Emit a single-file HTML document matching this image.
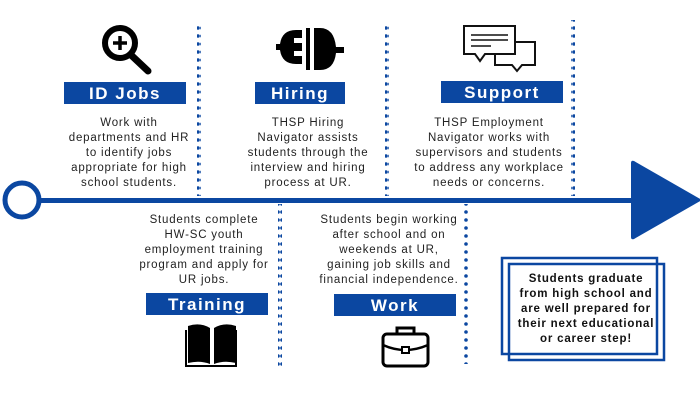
<!DOCTYPE html>
<html><head><meta charset="utf-8"><style>
body{margin:0;width:700px;height:400px;background:#fff;position:relative;overflow:hidden;font-family:"Liberation Sans",sans-serif}
.lbl{position:absolute;background:#0b47a1;color:#fff;font-weight:bold;font-size:17px;letter-spacing:1.5px;text-align:center;line-height:23px;height:22px}
.t{position:absolute;color:#222;font-size:11.5px;letter-spacing:0.8px;line-height:15px;text-align:center;white-space:nowrap;transform:translateX(-50%)}
.b{font-weight:bold;color:#111}
svg{position:absolute;left:0;top:0}
</style></head><body>
<svg width="700" height="400">
<defs><pattern id="d" width="4" height="8" patternUnits="userSpaceOnUse"><circle cx="2" cy="4" r="1.8" fill="#0b47a1"/></pattern></defs>
<rect x="197" y="24" width="4" height="172" fill="url(#d)"/>
<rect x="385" y="24" width="4" height="172" fill="url(#d)"/>
<rect x="571" y="20" width="4" height="176" fill="url(#d)"/>
<rect x="278" y="204" width="4" height="164" fill="url(#d)"/>
<rect x="464" y="204" width="4" height="160" fill="url(#d)"/>
<rect x="38" y="198" width="600" height="5" fill="#0b47a1"/>
<circle cx="22" cy="200" r="17" fill="#fff" stroke="#0b47a1" stroke-width="5"/>
<path d="M631 163 Q631 160 634 161 L702 200 L634 239 Q631 240 631 237 Z" fill="#0b47a1"/>
<rect x="502" y="258" width="155" height="96" fill="none" stroke="#0b47a1" stroke-width="2.5"/>
<rect x="509" y="264" width="155" height="96" fill="none" stroke="#0b47a1" stroke-width="2.5"/>
<!-- magnifier -->
<circle cx="120" cy="43" r="15" fill="none" stroke="#000" stroke-width="6"/>
<path d="M131 55 L148 71" stroke="#000" stroke-width="7" stroke-linecap="round"/>
<path d="M120 36 V50 M113 43 H127" stroke="#000" stroke-width="3.5"/>
<!-- plug -->
<path d="M302 30 h-6 q-14 0 -16 14 h-4 v6 h4 q2 14 16 14 h6 v-8 h-8 v-5 h8 v-8 h-8 v-5 h8 z" fill="#000"/>
<path d="M314 28 v42 h6 q14 0 16 -17 h8 v-6 h-8 q-2 -19 -16 -19 z" fill="#000"/>
<rect x="306" y="28" width="4" height="42" fill="#000"/>
<!-- chat -->
<path d="M495 42 h40 v23 h-13 l-5 6 l-5 -6 h-17 z" fill="#fff" stroke="#111" stroke-width="2"/>
<path d="M464 26 h51 v28 h-30 l-5 7 l-5 -7 h-11 z" fill="#fff" stroke="#111" stroke-width="2"/>
<path d="M471 35 h37 M471 40 h37 M471 46 h20" stroke="#111" stroke-width="1.5"/>
<!-- book -->
<path d="M188 326 q12 -4 22 2 v36 q-10 -4 -22 -1 z M214 328 q10 -6 22 -2 v37 q-12 -3 -22 1 z" fill="#000"/>
<path d="M186 330 v36 h50 v-36" fill="none" stroke="#000" stroke-width="2"/>
<!-- briefcase -->
<rect x="383" y="334" width="45" height="32" rx="4" fill="#fff" stroke="#000" stroke-width="3"/>
<path d="M397 334 v-6 h17 v6" fill="none" stroke="#000" stroke-width="3"/>
<path d="M383 345 q22 10 45 0" fill="none" stroke="#000" stroke-width="2.5"/>
<rect x="402" y="347" width="7" height="6" fill="#fff" stroke="#000" stroke-width="2"/>
</svg>
<div class="lbl" style="left:64px;top:82px;width:122px">ID Jobs</div>
<div class="lbl" style="left:255px;top:82px;width:90px">Hiring</div>
<div class="lbl" style="left:441px;top:81px;width:122px">Support</div>
<div class="lbl" style="left:146px;top:293px;width:122px">Training</div>
<div class="lbl" style="left:334px;top:294px;width:122px">Work</div>
<div class="t" style="left:129px;top:116px">Work with<br>departments and HR<br>to identify jobs<br>appropriate for high<br>school students.</div>
<div class="t" style="left:308px;top:116px">THSP Hiring<br>Navigator assists<br>students through the<br>interview and hiring<br>process at UR.</div>
<div class="t" style="left:489px;top:116px">THSP Employment<br>Navigator works with<br>supervisors and students<br>to address any workplace<br>needs or concerns.</div>
<div class="t" style="left:204px;top:213px">Students complete<br>HW-SC youth<br>employment training<br>program and apply for<br>UR jobs.</div>
<div class="t" style="left:389px;top:213px">Students begin working<br>after school and on<br>weekends at UR,<br>gaining job skills and<br>financial independence.</div>
<div class="t b" style="left:586px;top:272px">Students graduate<br>from high school and<br>are well prepared for<br>their next educational<br>or career step!</div>
</body></html>
